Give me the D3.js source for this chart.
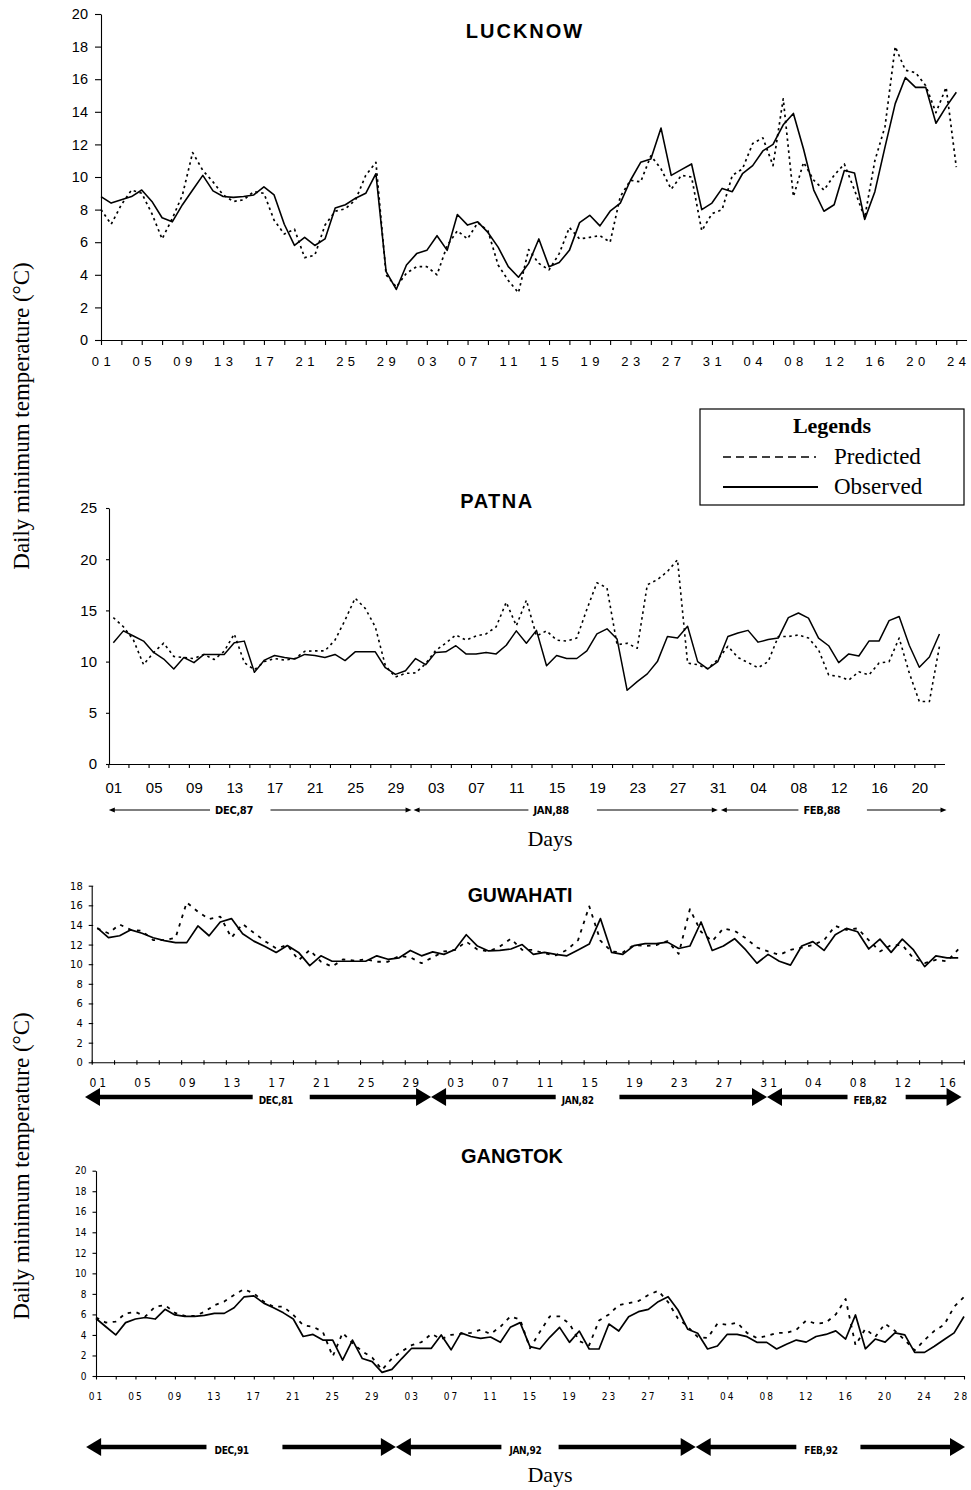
<!DOCTYPE html>
<html lang="en">
<head>
    <meta charset="UTF-8">
    <title>Daily minimum temperature - predicted vs observed</title>
    <script src="https://d3js.org/d3.v7.min.js"></script>
    <style>
        body { margin: 0; background: #fff; }
        svg { display: block; }
        .axis path, .axis line { stroke: #000; stroke-width: 1.1; }
        .axis text { fill: #000; font-family: "Liberation Sans", Arial, sans-serif; }
        .narrow { font-family: "Liberation Sans Narrow", "DejaVu Sans Condensed", "Liberation Sans", sans-serif !important; font-stretch: condensed; }
        .title { font-family: "Liberation Sans", Arial, sans-serif; font-weight: bold; }
        .serif { font-family: "Liberation Serif", "Times New Roman", serif; }
    </style>
</head>
<body>
<div id="chart"></div>
<script>
    // ---- data ----
    var luckLabels = ["01","05","09","13","17","21","25","29","03","07","11","15","19","23","27","31","04","08","12","16","20","24"];
    var luckObserved = [8.8,8.4,8.6,8.8,9.2,8.5,7.5,7.25,8.3,9.2, 10.1,9.15,8.8,8.75,8.8,8.9,9.4,8.9,7.1,5.8,
        6.3,5.8,6.2,8.1,8.3,8.7,9.0,10.2,4.2,3.1, 4.6,5.3,5.5,6.4,5.5,7.7,7.05,7.25,6.6,5.7,
        4.5,3.85,4.7,6.2,4.5,4.75,5.5,7.2,7.65,7.0, 7.9,8.4,9.8,10.9,11.1,13.0,10.1,10.45,10.8,8.0,
        8.4,9.3,9.1,10.2,10.7,11.6,12.0,13.2,13.9,11.7, 9.2,7.9,8.3,10.4,10.25,7.4,9.1,11.85,14.5,16.1,
        15.5,15.5,13.3,14.3,15.2];
    var luckPredicted = [8.0,7.1,8.3,9.2,9.0,7.75,6.2,7.45,8.9,11.5, 10.4,9.7,8.9,8.5,8.6,9.1,9.0,7.35,6.5,6.8,
        5.05,5.2,7.05,7.9,8.05,8.6,10.1,10.9,4.0,3.25, 4.1,4.5,4.5,4.0,5.8,6.7,6.2,7.2,6.7,4.6,
        3.65,2.9,5.55,4.7,4.3,5.3,6.9,6.2,6.3,6.4, 6.0,8.8,9.8,9.7,11.3,10.5,9.25,10.1,10.0,6.7,
        7.75,8.0,10.1,10.5,12.05,12.4,10.7,14.8,8.8,10.9, 9.8,9.2,10.1,10.8,9.2,7.5,11.0,13.1,18.0,16.55,
        16.4,15.6,13.95,15.5,10.6];

    var patnaLabels = ["01","05","09","13","17","21","25","29","03","07","11","15","19","23","27","31","04","08","12","16","20"];
    var patnaObserved = [11.85,13.0,12.5,12.0,10.9,10.25,9.27,10.4,9.9,10.7, 10.7,10.7,11.85,12.0,8.95,10.15,10.6,10.4,10.25,10.7,
        10.6,10.4,10.7,10.1,10.95,10.95,10.95,9.4,8.75,9.1, 10.3,9.7,10.9,10.95,11.55,10.75,10.75,10.9,10.75,11.6,
        13.0,11.8,13.05,9.6,10.6,10.3,10.3,11.05,12.7,13.2, 12.2,7.2,8.05,8.8,10.0,12.45,12.3,13.45,10.0,9.3,
        10.0,12.45,12.8,13.05,11.9,12.15,12.3,14.3,14.75,14.25, 12.3,11.55,9.9,10.75,10.55,12.0,12.0,14.0,14.4,11.6,
        9.45,10.45,12.7];
    var patnaPredicted = [14.3,13.4,12.1,9.7,10.9,11.8,10.5,10.4,10.3,10.7, 10.2,11.0,12.7,9.9,9.2,10.0,10.3,10.15,10.3,11.0,
        11.05,11.05,12.1,14.05,16.2,15.2,13.4,9.6,8.5,8.85, 8.9,9.8,11.1,11.8,12.6,12.1,12.5,12.7,13.4,15.8,
        13.5,16.0,12.5,13.0,12.1,12.0,12.3,15.1,17.7,17.2, 11.65,11.8,11.3,17.5,18.0,18.8,19.95,9.85,9.7,9.3,
        10.2,11.5,10.4,9.9,9.4,10.0,12.45,12.45,12.6,12.3, 11.15,8.7,8.55,8.2,9.0,8.7,9.85,10.0,12.3,8.9,
        6.1,6.1,11.5];
    var patnaMonths = ["DEC,87","JAN,88","FEB,88"];

    var guwaLabels = ["01","05","09","13","17","21","25","29","03","07","11","15","19","23","27","31","04","08","12","16"];
    var guwaObserved = [13.7,12.7,12.9,13.5,13.15,12.7,12.4,12.2,12.2,13.9, 12.9,14.3,14.65,13.1,12.35,11.8,11.2,11.9,11.2,9.85,
        10.85,10.3,10.3,10.3,10.3,10.85,10.5,10.65,11.4,10.85, 11.25,11.0,11.5,13.0,11.85,11.35,11.4,11.55,12.0,11.0,
        11.2,11.0,10.85,11.45,12.05,14.65,11.2,11.0,11.9,12.1, 12.1,12.25,11.6,11.85,14.3,11.4,11.85,12.6,11.45,10.1,
        11.0,10.3,9.9,11.85,12.3,11.4,13.0,13.65,13.3,11.55, 12.55,11.2,12.55,11.45,9.75,10.85,10.65,10.65];
    var guwaPredicted = [13.65,13.15,14.05,13.5,13.4,12.45,12.45,12.7,16.3,15.35, 14.6,14.85,12.7,14.1,13.2,12.35,11.6,11.95,10.4,11.45,
        10.25,9.75,10.5,10.35,10.5,10.25,10.25,10.85,10.7,10.1, 10.7,11.3,11.45,12.3,11.5,11.3,11.8,12.6,11.45,11.45,
        11.1,10.9,11.45,12.45,15.9,12.4,11.3,11.2,11.95,11.85, 11.95,12.35,11.05,15.6,13.3,12.35,13.65,13.4,12.65,11.7,
        11.3,10.95,11.45,11.7,11.95,12.45,13.9,13.5,13.65,12.45, 11.3,11.95,11.95,10.6,10.1,10.45,10.3,11.5];
    var guwaMonths = ["DEC,81","JAN,82","FEB,82"];

    var gangLabels = ["01","05","09","13","17","21","25","29","03","07","11","15","19","23","27","31","04","08","12","16","20","24","28"];
    var gangObserved = [5.6,4.8,4.0,5.2,5.55,5.7,5.55,6.5,5.95,5.8, 5.8,5.9,6.1,6.1,6.65,7.7,7.8,7.1,6.65,6.15,
        5.55,3.85,4.05,3.5,3.5,1.55,3.5,1.7,1.4,0.35, 0.65,1.7,2.7,2.7,2.7,4.0,2.55,4.2,3.85,3.67,
        3.8,3.28,4.74,5.2,2.86,2.63,3.77,4.74,3.28,4.38, 2.63,2.63,5.06,4.38,5.78,6.27,6.49,7.24,7.73,6.43,
        4.55,4.16,2.63,2.92,4.06,4.06,3.83,3.28,3.28,2.63, 3.1,3.5,3.3,3.85,4.05,4.4,3.6,5.95,2.65,3.6,
        3.3,4.2,4.0,2.3,2.3,2.9,3.55,4.2,5.8];
    var gangPredicted = [5.7,5.2,5.3,6.1,6.25,5.8,6.75,6.9,6.15,5.85, 5.85,6.25,6.9,7.25,7.9,8.45,8.05,7.25,6.75,6.75,
        5.95,4.95,4.8,4.3,1.9,4.2,3.2,2.4,1.8,0.6, 1.7,2.4,3.0,3.3,4.1,3.6,4.0,4.1,4.2,4.5,
        4.1,4.8,5.8,5.5,2.7,4.3,5.8,5.8,5.1,3.4, 3.0,5.4,6.0,6.9,7.1,7.3,7.9,8.3,7.2,5.6,
        4.8,3.8,3.7,5.1,5.0,5.2,4.2,3.7,3.9,4.2, 4.2,4.5,5.4,5.1,5.2,6.0,7.5,3.0,4.6,3.8,
        5.1,4.4,3.5,2.5,3.5,4.4,5.0,6.75,7.7];
    var gangMonths = ["DEC,91","JAN,92","FEB,92"];

    // ---- drawing ----
    var W = 971, H = 1490;
    var svg = d3.select("#chart").append("svg").attr("width", W).attr("height", H);

    // month arrows: [tip left, shaft end, shaft start, tip right] in day-index units
    function monthArrows(x, yPos, names, spans, opt) {
        var g = svg.append("g");
        names.forEach(function(name, k) {
            var s = spans[k];
            var xl = x(s[0]), xa = x(s[1]), xb = x(s[2]), xr = x(s[3]);
            g.append("line").attr("x1", xl + opt.hl * 0.6).attr("x2", xa).attr("y1", yPos).attr("y2", yPos)
                .attr("stroke", "#000").attr("stroke-width", opt.sw);
            g.append("line").attr("x1", xb).attr("x2", xr - opt.hl * 0.6).attr("y1", yPos).attr("y2", yPos)
                .attr("stroke", "#000").attr("stroke-width", opt.sw);
            g.append("path").attr("d", d3.line()([[xl, yPos], [xl + opt.hl, yPos - opt.hw], [xl + opt.hl, yPos + opt.hw]]) + "Z");
            g.append("path").attr("d", d3.line()([[xr, yPos], [xr - opt.hl, yPos - opt.hw], [xr - opt.hl, yPos + opt.hw]]) + "Z");
            g.append("text").attr("class", "narrow").attr("x", xa + opt.tx).attr("y", yPos + opt.ty)
                .attr("font-size", opt.fs).attr("font-weight", "bold").attr("letter-spacing", -0.3)
                .text(name);
        });
    }

    function series(g, x, y, vals, dash, sw) {
        var line = d3.line().x(function(d, i) { return x(i); }).y(function(d) { return y(d); });
        g.append("path").datum(vals).attr("d", line).attr("fill", "none").attr("stroke", "#000")
            .attr("stroke-width", sw).attr("stroke-linejoin", "round")
            .attr("stroke-dasharray", dash);
    }

    // ===== LUCKNOW =====
    (function() {
        var x = d3.scaleLinear().domain([0, 85]).range([101, 966.5]);
        var y = d3.scaleLinear().domain([0, 20]).range([340, 14]);
        var g = svg.append("g");
        g.append("g").attr("class", "axis").attr("transform", "translate(101,0)")
            .call(d3.axisLeft(y).tickValues(d3.range(0, 21, 2)).tickSize(6).tickSizeOuter(0).tickPadding(7))
            .call(function(a) { a.selectAll("text").attr("font-size", 14.5); });
        g.append("g").attr("class", "axis").attr("transform", "translate(0,340)")
            .call(d3.axisBottom(x).tickValues(d3.range(0, 85, 2)).tickSize(5).tickSizeOuter(0)
                .tickFormat(function(i) { return i % 4 === 0 ? luckLabels[i / 4] : ""; }))
            .call(function(a) {
                a.selectAll("text").attr("font-size", 13).attr("letter-spacing", 4.5)
                    .attr("dy", null).attr("y", 26).attr("dx", 2);
            });
        series(g, x, y, luckPredicted, "2.5,3.5", 1.7);
        series(g, x, y, luckObserved, null, 1.6);
        g.append("text").attr("class", "title").attr("x", 525).attr("y", 38).attr("text-anchor", "middle")
            .attr("font-size", 20).attr("letter-spacing", 2).text("LUCKNOW");
    })();

    // ===== PATNA =====
    (function() {
        var x = d3.scaleLinear().domain([-0.5, 82.5]).range([108.3, 944.5]);
        var y = d3.scaleLinear().domain([0, 25]).range([764, 508]);
        var g = svg.append("g");
        g.append("g").attr("class", "axis").attr("transform", "translate(109,0)")
            .call(d3.axisLeft(y).tickValues(d3.range(0, 26, 5)).tickSize(3).tickSizeOuter(0).tickPadding(9))
            .call(function(a) { a.selectAll("text").attr("font-size", 15); });
        g.append("g").attr("class", "axis").attr("transform", "translate(0,764)")
            .call(d3.axisBottom(x).tickValues(d3.range(-0.5, 82, 2)).tickSize(4).tickSizeOuter(0).tickFormat(""));
        g.append("g").attr("class", "axis").attr("transform", "translate(0,764)")
            .call(d3.axisBottom(x).tickValues(d3.range(0, 81, 4)).tickSize(0)
                .tickFormat(function(i) { return patnaLabels[i / 4]; }))
            .call(function(a) {
                a.select(".domain").remove();
                a.selectAll("text").attr("font-size", 15).attr("dy", null).attr("y", 29);
            });
        series(g, x, y, patnaPredicted, "2.5,3.5", 1.6);
        series(g, x, y, patnaObserved, null, 1.5);
        g.append("text").attr("class", "title").attr("x", 497).attr("y", 508).attr("text-anchor", "middle")
            .attr("font-size", 20).attr("letter-spacing", 1.5).text("PATNA");
        monthArrows(x, 810, patnaMonths,
            [[-0.45, 9.6, 15.6, 29.6], [29.8, 41.2, 48.0, 60.0], [60.3, 68.0, 74.8, 82.7]],
            { sw: 1.2, hl: 6, hw: 2.6, fs: 11, tx: 5, ty: 4 });
        g.append("text").attr("class", "serif").attr("x", 550).attr("y", 846).attr("text-anchor", "middle")
            .attr("font-size", 22).text("Days");
    })();

    // ===== GUWAHATI =====
    (function() {
        var x = d3.scaleLinear().domain([-0.5, 77.5]).range([91.7, 963.8]);
        var y = d3.scaleLinear().domain([0, 18]).range([1062.3, 885.7]);
        var g = svg.append("g");
        g.append("g").attr("class", "axis").attr("transform", "translate(91.7,0)")
            .call(d3.axisLeft(y).tickValues(d3.range(0, 19, 2)).tickSize(3).tickSizeOuter(0).tickPadding(6))
            .call(function(a) {
                a.selectAll(".tick line").attr("x1", 1.5);
                a.selectAll("text").attr("class", "narrow").attr("font-size", 11);
            });
        g.append("g").attr("class", "axis").attr("transform", "translate(0,1062.3)")
            .call(d3.axisBottom(x).tickValues(d3.range(-0.5, 78, 2)).tickSize(2.5).tickSizeOuter(0).tickFormat(""))
            .call(function(a) { a.selectAll(".tick line").attr("y1", -2); });
        g.append("g").attr("class", "axis").attr("transform", "translate(0,1062.3)")
            .call(d3.axisBottom(x).tickValues(d3.range(0, 77, 4)).tickSize(0)
                .tickFormat(function(i) { return guwaLabels[i / 4]; }))
            .call(function(a) {
                a.select(".domain").remove();
                a.selectAll("text").attr("class", "narrow").attr("font-size", 12).attr("letter-spacing", 3)
                    .attr("dy", null).attr("y", 25).attr("dx", 1.5);
            });
        series(g, x, y, guwaPredicted, "3.5,5.5", 1.8);
        series(g, x, y, guwaObserved, null, 1.7);
        g.append("text").attr("class", "title").attr("x", 520).attr("y", 902).attr("text-anchor", "middle")
            .attr("font-size", 19.5).text("GUWAHATI");
        monthArrows(x, 1097, guwaMonths,
            [[-1.1, 13.9, 19.0, 29.85], [29.85, 41.0, 46.7, 59.9], [59.9, 67.1, 72.3, 77.3]],
            { sw: 4.5, hl: 15, hw: 9, fs: 10, tx: 6, ty: 7 });
    })();

    // ===== GANGTOK =====
    (function() {
        var x = d3.scaleLinear().domain([0, 88]).range([96, 964]);
        var y = d3.scaleLinear().domain([0, 20]).range([1376, 1170.7]);
        var g = svg.append("g");
        g.append("g").attr("class", "axis").attr("transform", "translate(96,0)")
            .call(d3.axisLeft(y).tickValues(d3.range(0, 21, 2)).tickSize(3.5).tickSizeOuter(0).tickPadding(6))
            .call(function(a) { a.selectAll("text").attr("class", "narrow").attr("font-size", 10); });
        g.append("g").attr("class", "axis").attr("transform", "translate(0,1376)")
            .call(d3.axisBottom(x).tickValues(d3.range(0, 89, 2)).tickSize(3.5).tickSizeOuter(0)
                .tickFormat(function(i) { return i % 4 === 0 ? gangLabels[i / 4] : ""; }))
            .call(function(a) {
                a.selectAll("text").attr("class", "narrow").attr("font-size", 10).attr("letter-spacing", 2)
                    .attr("dy", null).attr("y", 24).attr("dx", 0);
                a.selectAll("text").filter(function(i) { return i === 88; }).attr("dx", -3);
            });
        series(g, x, y, gangPredicted, "3.5,5.5", 1.8);
        series(g, x, y, gangObserved, null, 1.7);
        g.append("text").attr("class", "title").attr("x", 512).attr("y", 1163).attr("text-anchor", "middle")
            .attr("font-size", 20).text("GANGTOK");
        monthArrows(x, 1447, gangMonths,
            [[-1.0, 11.2, 18.9, 30.4], [30.4, 41.1, 46.9, 60.8], [60.8, 71.0, 77.5, 88.1]],
            { sw: 4.5, hl: 15, hw: 9, fs: 10, tx: 8, ty: 7 });
        g.append("text").attr("class", "serif").attr("x", 550).attr("y", 1482).attr("text-anchor", "middle")
            .attr("font-size", 22).text("Days");
    })();

    // ---- shared y titles ----
    [416, 1166].forEach(function(cy) {
        svg.append("text").attr("class", "serif").attr("transform", "translate(29," + cy + ") rotate(-90)")
            .attr("text-anchor", "middle").attr("font-size", 23).text("Daily minimum temperature (\u00B0C)");
    });

    // ---- legend ----
    var leg = svg.append("g");
    leg.append("rect").attr("x", 700).attr("y", 409).attr("width", 264).attr("height", 96)
        .attr("fill", "#fff").attr("stroke", "#000").attr("stroke-width", 1.2);
    leg.append("text").attr("class", "serif").attr("x", 832).attr("y", 433).attr("text-anchor", "middle")
        .attr("font-size", 22).attr("font-weight", "bold").text("Legends");
    leg.append("line").attr("x1", 723).attr("x2", 816).attr("y1", 457).attr("y2", 457)
        .attr("stroke", "#000").attr("stroke-width", 1.3).attr("stroke-dasharray", "8,5");
    leg.append("line").attr("x1", 723).attr("x2", 818).attr("y1", 487).attr("y2", 487)
        .attr("stroke", "#000").attr("stroke-width", 1.8);
    leg.append("text").attr("class", "serif").attr("x", 834).attr("y", 464).attr("font-size", 23).text("Predicted");
    leg.append("text").attr("class", "serif").attr("x", 834).attr("y", 494).attr("font-size", 23).text("Observed");
</script>
</body>
</html>
